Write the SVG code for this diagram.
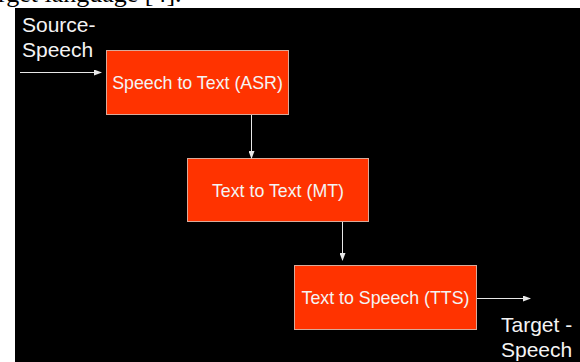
<svg xmlns="http://www.w3.org/2000/svg" width="580" height="362" viewBox="0 0 580 362">
<style>
.box{fill:#ff3300;stroke:#d9aa9a;stroke-width:1}
.bt{font-family:"Liberation Sans",Arial,sans-serif;font-size:17.8px;fill:#f4f4f4;text-anchor:middle}
.lt{font-family:"Liberation Sans",Arial,sans-serif;font-size:21px;fill:#f4f4f4}
.c{stroke:#e8e8e8;stroke-width:1;fill:none;marker-end:url(#ah)}
</style>
<defs>
<marker id="ah" markerWidth="8" markerHeight="6" refX="7" refY="3" orient="auto" markerUnits="userSpaceOnUse">
<path d="M0,0 L8,3 L0,6 Z" fill="#e8e8e8"/>
</marker>
</defs>
<rect x="0" y="0" width="580" height="362" fill="#ffffff"/>
<text x="-2" y="2" font-family="Liberation Serif,'Times New Roman',serif" font-size="26" fill="#000">rget language [4].</text>
<rect x="15" y="8" width="565" height="354" fill="#000000"/>
<g id="source-label"><text class="lt" x="22" y="32">Source-</text><text class="lt" x="22" y="57">Speech</text></g>
<g id="asr"><rect class="box" x="106.5" y="50.5" width="182" height="64"/><text class="bt" x="197.5" y="89">Speech to Text (ASR)</text></g>
<g id="mt"><rect class="box" x="187.5" y="158.5" width="181" height="63"/><text class="bt" x="278" y="196.5">Text to Text (MT)</text></g>
<g id="tts"><rect class="box" x="294.5" y="265.5" width="182" height="64"/><text class="bt" x="385.5" y="304">Text to Speech (TTS)</text></g>
<g id="target-label"><text class="lt" x="501" y="332">Target -</text><text class="lt" x="501" y="357">Speech</text></g>
<g id="connectors">
<line class="c" x1="20" y1="72.5" x2="101" y2="72.5"/>
<line class="c" x1="251.5" y1="115" x2="251.5" y2="158"/>
<line class="c" x1="342.5" y1="222" x2="342.5" y2="260"/>
<line class="c" x1="477" y1="298.5" x2="530" y2="298.5"/>
</g>
</svg>
